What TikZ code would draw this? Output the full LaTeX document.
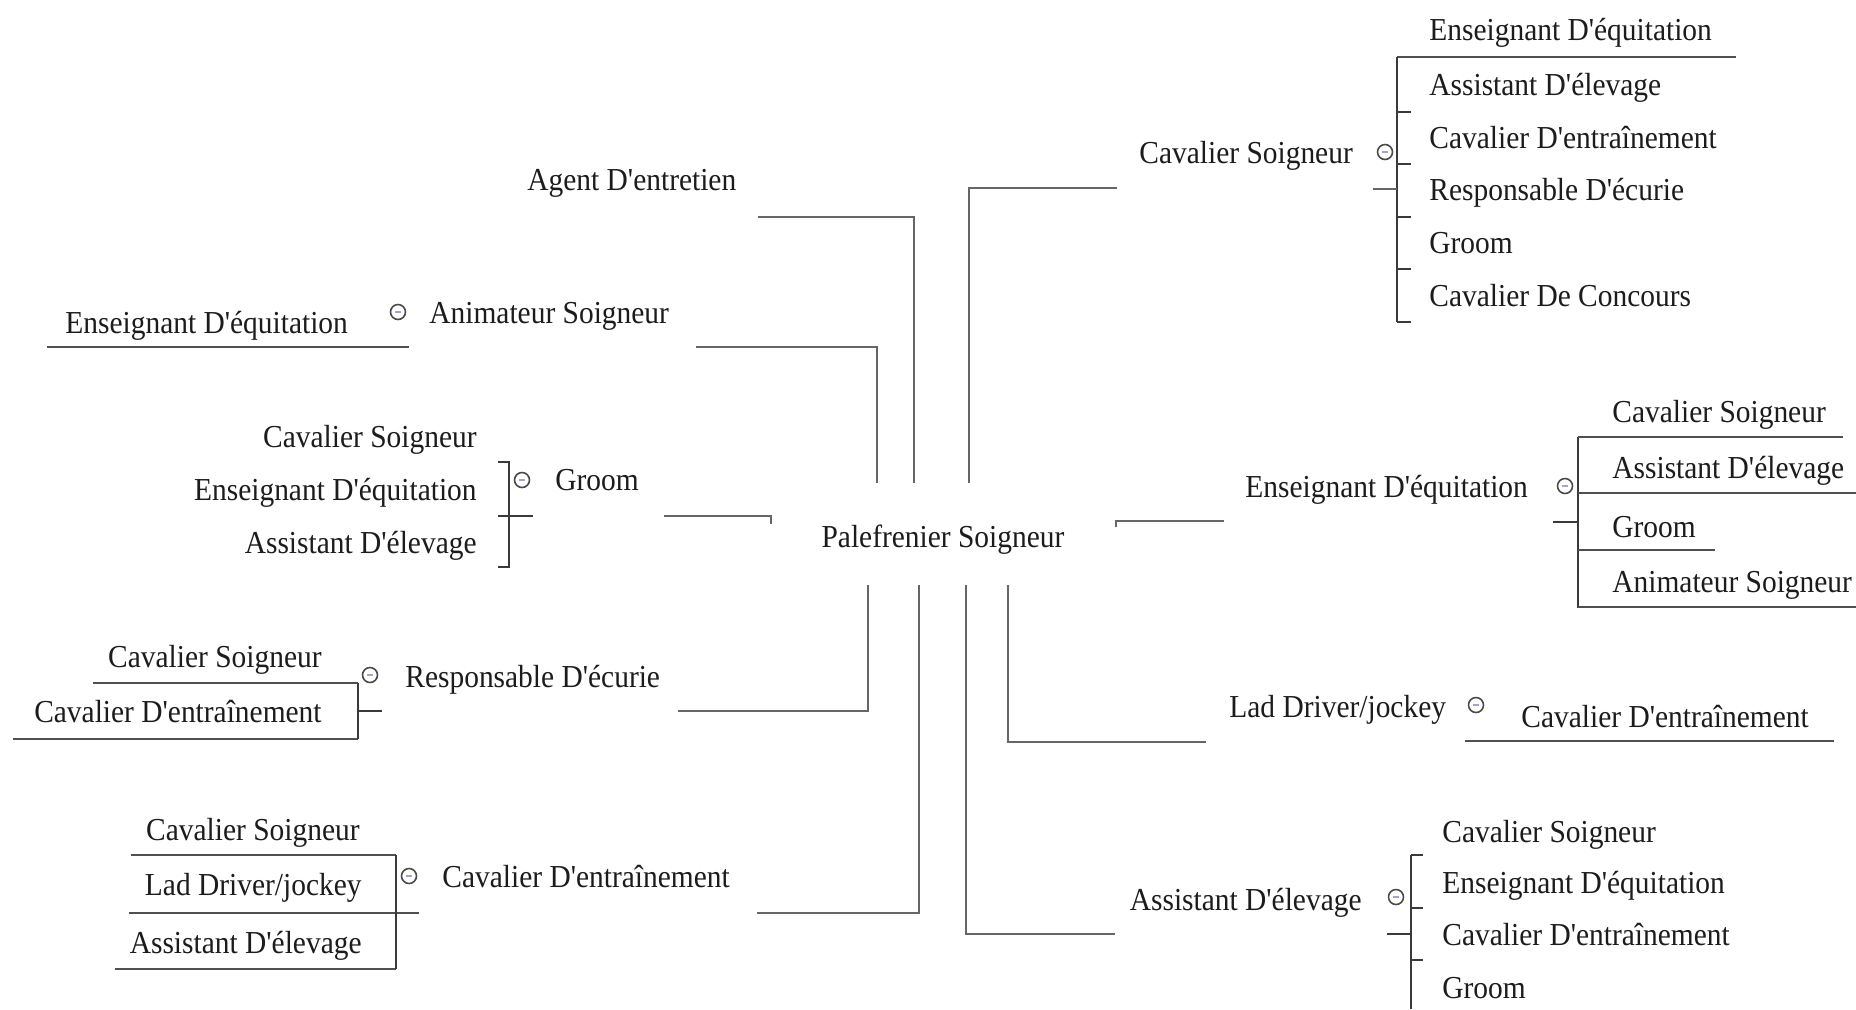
\documentclass[tikz,border=0pt]{standalone}
\usepackage{fontspec}
\newfontfamily\nf{Liberation Serif}[FakeStretch=0.92]
\definecolor{txt}{HTML}{1C1C1C}
\definecolor{connc}{HTML}{666666}
\definecolor{brkc}{HTML}{3A3A3A}
\definecolor{ulc}{HTML}{505050}
\definecolor{togc}{HTML}{4A4A4A}
\definecolor{dashc}{HTML}{9EA4D6}
\begin{document}
\begin{tikzpicture}[x=0.5pt,y=-0.5pt,
  lbl/.style={inner sep=0pt, font=\nf\fontsize{16}{18}\selectfont, text=txt},
  conn/.style={draw=connc, line width=1.2pt},
  brk/.style={draw=brkc, line width=0.8pt},
  ul/.style={draw=ulc, line width=0.9pt},
  tog/.style={circle, draw=togc, line width=0.8pt, fill=white, minimum size=7.5pt, inner sep=0pt,
    path picture={\draw[dashc, line width=1pt] ([xshift=-1.6pt]path picture bounding box.center) -- ([xshift=1.6pt]path picture bounding box.center);}}]
\fill[white] (0,0) rectangle (1856,1009);
\useasboundingbox (0,0) rectangle (1856,1009);

% centre
\node[lbl, anchor=base] (c) at (943,547) {Palefrenier Soigneur};
\coordinate (cAn) at (877,483);
\coordinate (cAg) at (914,483);
\coordinate (cCS) at (969,483);
\coordinate (cGr) at (771,524);
\coordinate (cEn) at (1116,527);
\coordinate (cRe) at (868,585);
\coordinate (cCE) at (919,585);
\coordinate (cAs) at (966,585);
\coordinate (cLa) at (1008,585);

% ---------- Agent D'entretien
\node[lbl, anchor=base west] (agent) at (527,190) {Agent D'entretien};
\coordinate (agE) at (758,217);
\draw[conn] (cAg) |- (agE);

% ---------- Animateur Soigneur (left)
\node[lbl, anchor=base west] (anim) at (429,323) {Animateur Soigneur};
\node[tog] (animT) at (398,312) {};
\coordinate (anE) at (696,347);
\draw[conn] (cAn) |- (anE);
\node[lbl, anchor=base west] (animC1) at (65,333) {Enseignant D'équitation};
\coordinate (anU1) at (47,347);
\coordinate (anU2) at (409,347);
\draw[ul] (anU1) -- (anU2);

% ---------- Groom (left)
\node[lbl, anchor=base west] (groomL) at (555,490) {Groom};
\node[tog] (groomT) at (522,480) {};
\coordinate (grE) at (664,516);
\draw[conn] (cGr) |- (grE);
\draw[brk] (498,462) -- (509,462) -- (509,567) -- (498,567);
\draw[brk] (498,516) -- (533,516);
\node[lbl, anchor=base east] (grC1) at (477,447) {Cavalier Soigneur};
\node[lbl, anchor=base east] (grC2) at (477,500) {Enseignant D'équitation};
\node[lbl, anchor=base east] (grC3) at (477,553) {Assistant D'élevage};

% ---------- Responsable D'écurie (left)
\node[lbl, anchor=base west] (resp) at (405,687) {Responsable D'écurie};
\node[tog] (respT) at (370,675) {};
\coordinate (reE) at (678,711);
\draw[conn] (cRe) |- (reE);
\draw[ul] (93,683) -- (358,683);
\draw[ul] (13,739) -- (358,739);
\draw[brk] (358,683) -- (358,739);
\draw[brk] (358,711) -- (382,711);
\node[lbl, anchor=base east] (reC1) at (322,667) {Cavalier Soigneur};
\node[lbl, anchor=base east] (reC2) at (322,722) {Cavalier D'entraînement};

% ---------- Cavalier D'entraînement (left)
\node[lbl, anchor=base west] (cavE) at (442,887) {Cavalier D'entraînement};
\node[tog] (cavET) at (409,876) {};
\coordinate (ceE) at (757,913);
\draw[conn] (cCE) |- (ceE);
\draw[ul] (131,855) -- (396,855);
\draw[ul] (129,913) -- (419,913);
\draw[ul] (115,969) -- (396,969);
\draw[brk] (396,855) -- (396,969);
\node[lbl, anchor=base east] (ceC1) at (360,840) {Cavalier Soigneur};
\node[lbl, anchor=base east] (ceC2) at (362,895) {Lad Driver/jockey};
\node[lbl, anchor=base east] (ceC3) at (362,953) {Assistant D'élevage};

% ---------- Cavalier Soigneur (right)
\node[lbl, anchor=base west] (cavS) at (1139,163) {Cavalier Soigneur};
\node[tog] (cavST) at (1385,152) {};
\coordinate (csE) at (1117,188);
\draw[conn] (cCS) |- (csE);
\draw[ul] (1397,57) -- (1736,57);
\draw[brk] (1397,57) -- (1397,322);
\foreach \yy in {112,164,217,269,322} \draw[brk] (1397,\yy) -- (1411,\yy);
\draw[conn] (1373,189) -- (1397,189);
\node[lbl, anchor=base west] (csC1) at (1429,40) {Enseignant D'équitation};
\node[lbl, anchor=base west] (csC2) at (1429,95) {Assistant D'élevage};
\node[lbl, anchor=base west] (csC3) at (1429,148) {Cavalier D'entraînement};
\node[lbl, anchor=base west] (csC4) at (1429,200) {Responsable D'écurie};
\node[lbl, anchor=base west] (csC5) at (1429,253) {Groom};
\node[lbl, anchor=base west] (csC6) at (1429,306) {Cavalier De Concours};

% ---------- Enseignant D'équitation (right)
\node[lbl, anchor=base west] (ens) at (1245,497) {Enseignant D'équitation};
\node[tog] (ensT) at (1565,486) {};
\coordinate (enE) at (1224,521);
\draw[conn] (cEn) |- (enE);
\draw[brk] (1578,437) -- (1578,608);
\draw[brk] (1553,522) -- (1578,522);
\draw[ul] (1578,437) -- (1843,437);
\draw[ul] (1578,493) -- (1856,493);
\draw[ul] (1578,550) -- (1715,550);
\draw[ul] (1578,607) -- (1856,607);
\node[lbl, anchor=base west] (enC1) at (1612,422) {Cavalier Soigneur};
\node[lbl, anchor=base west] (enC2) at (1612,478) {Assistant D'élevage};
\node[lbl, anchor=base west] (enC3) at (1612,537) {Groom};
\node[lbl, anchor=base west] (enC4) at (1612,592) {Animateur Soigneur};

% ---------- Lad Driver/jockey (right)
\node[lbl, anchor=base west] (lad) at (1229,717) {Lad Driver/jockey};
\node[tog] (ladT) at (1476,705) {};
\coordinate (laE) at (1206,742);
\draw[conn] (cLa) |- (laE);
\node[lbl, anchor=base west] (laC1) at (1521,727) {Cavalier D'entraînement};
\draw[ul] (1465,741) -- (1834,741);

% ---------- Assistant D'élevage (right)
\node[lbl, anchor=base east] (asst) at (1362,910) {Assistant D'élevage};
\node[tog] (asstT) at (1396,897) {};
\coordinate (asE) at (1115,934);
\draw[conn] (cAs) |- (asE);
\draw[brk] (1411,855) -- (1411,1009);
\foreach \yy in {855,908,960} \draw[brk] (1411,\yy) -- (1423,\yy);
\draw[brk] (1387,934) -- (1411,934);
\node[lbl, anchor=base west] (asC1) at (1442,842) {Cavalier Soigneur};
\node[lbl, anchor=base west] (asC2) at (1442,893) {Enseignant D'équitation};
\node[lbl, anchor=base west] (asC3) at (1442,945) {Cavalier D'entraînement};
\node[lbl, anchor=base west] (asC4) at (1442,998) {Groom};
\end{tikzpicture}
\end{document}
